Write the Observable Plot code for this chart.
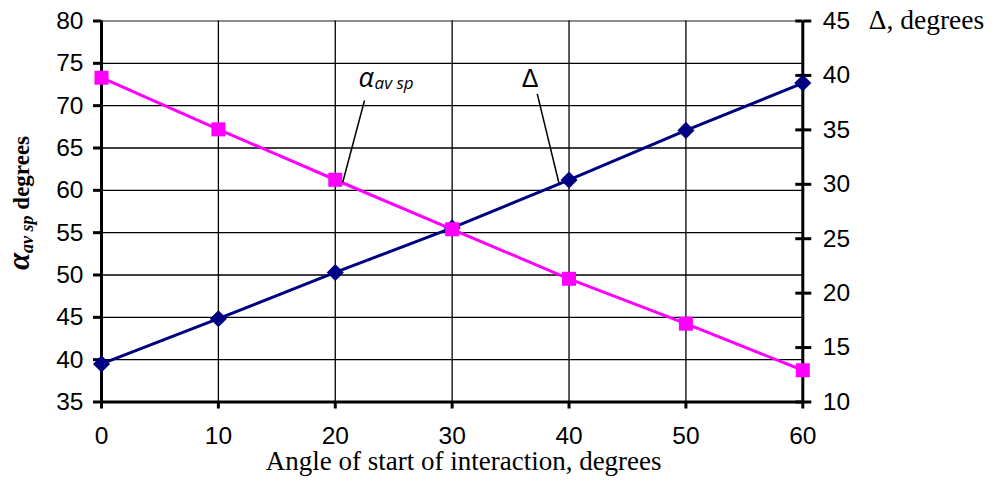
<!DOCTYPE html>
<html><head><meta charset="utf-8">
<script src="https://cdn.jsdelivr.net/npm/d3@7"></script>
<script src="https://cdn.jsdelivr.net/npm/@observablehq/plot@0.6"></script>
<style>body{margin:0;background:#fff} svg{display:block}</style>
</head><body><div id="chart"></div>
<script>
// ---- data ----
const angles = [0, 10, 20, 30, 40, 50, 60];
const alphaAvSp = [73.3, 67.2, 61.25, 55.4, 49.55, 44.25, 38.75];   // left axis
const delta = [13.5, 17.65, 21.9, 26.0, 30.4, 34.95, 39.3];         // right axis
const xTicks = [0, 10, 20, 30, 40, 50, 60];
const leftTicks = [35, 40, 45, 50, 55, 60, 65, 70, 75, 80];
const rightTicks = [10, 15, 20, 25, 30, 35, 40, 45];
const leftDomain = [35, 80];
const rightDomain = [10, 45];
const xLabel = "Angle of start of interaction, degrees";
const rightLabel = "\u0394, degrees";
// annotations in data coordinates (left-axis units)
const annoAlpha = [{x: 21.99, y: 72.18, main: "\u03b1", sub: "av sp"}];
const annoDelta = [{x: 36.66, y: 72.26, text: "\u0394"}];
const leaders = [
  {x1: 22.5, y1: 70.61, x2: 20.64, y2: 60.96},
  {x1: 37.28, y1: 71.40, x2: 39.13, y2: 60.89}
];

const toLeft = d3.scaleLinear().domain(rightDomain).range(leftDomain);
const rows = angles.map((a, i) => ({a, alpha: alphaAvSp[i], delta: delta[i]}));

const sans = "'Liberation Sans', Arial, sans-serif";
const serif = "'Liberation Serif', 'Times New Roman', serif";
const anno = "'Open Sans', 'DejaVu Sans', sans-serif";

const chart = Plot.plot({
  width: 996, height: 489,
  marginLeft: 101, marginRight: 193.7, marginTop: 20.5, marginBottom: 87.5,
  style: {background: "#fff", overflow: "visible"},
  x: {domain: [0, 60]},
  y: {domain: leftDomain},
  marks: [
    Plot.ruleY(leftTicks.slice(0, -1), {stroke: "#000", strokeWidth: 1.3}),
    Plot.ruleY([leftDomain[1]], {stroke: "#666", strokeWidth: 1.3}),
    Plot.ruleX(xTicks, {stroke: "#000", strokeWidth: 1.3}),
    // axis lines
    Plot.ruleX([0], {stroke: "#000", strokeWidth: 3}),
    Plot.ruleX([60], {stroke: "#000", strokeWidth: 3}),
    Plot.ruleY([35], {stroke: "#000", strokeWidth: 3}),
    Plot.axisY({anchor: "left", ticks: leftTicks, tickSize: 8, tickPadding: 10, strokeWidth: 3,
      fontSize: 24.5, fontFamily: sans, label: null, tickFormat: d => d}),
    Plot.axisY({anchor: "right", ticks: rightTicks.map(v => toLeft(v)), tickSize: 8, tickPadding: 12,
      strokeWidth: 3, fontSize: 24.5, fontFamily: sans, label: null,
      tickFormat: d => Math.round(toLeft.invert(d))}),
    // inner half of right cross ticks
    Plot.ruleY(rightTicks.map(v => toLeft(v)), {x1: 60, x2: 60, insetLeft: -7, stroke: "#000", strokeWidth: 3}),
    Plot.axisX({ticks: xTicks, tickSize: 7, tickPadding: 18, strokeWidth: 3, fontSize: 24.5,
      fontFamily: sans, label: null, tickFormat: d => d}),
    // series
    Plot.line(rows, {x: "a", y: d => toLeft(d.delta), stroke: "#000080", strokeWidth: 3}),
    Plot.dot(rows, {x: "a", y: d => toLeft(d.delta), symbol: "diamond2", r: 7.7, fill: "#000080"}),
    Plot.line(rows, {x: "a", y: "alpha", stroke: "#FF00FF", strokeWidth: 3}),
    Plot.dot(rows, {x: "a", y: "alpha", symbol: "square", r: 7.9, fill: "#FF00FF"}),
    // annotations
    Plot.link(leaders, {x1: "x1", y1: "y1", x2: "x2", y2: "y2", stroke: "#000", strokeWidth: 1.5}),
    Plot.text(annoAlpha, {x: "x", y: "y", text: "main", textAnchor: "start", lineAnchor: "bottom",
      fontSize: 27, fontStyle: "italic", fontFamily: anno, fill: "#000"}),
    Plot.text(annoAlpha, {x: "x", y: "y", text: "sub", textAnchor: "start", lineAnchor: "bottom",
      dx: 16, dy: 2, fontSize: 17, fontStyle: "italic", fontFamily: anno, fill: "#000"}),
    Plot.text(annoDelta, {x: "x", y: "y", text: "text", textAnchor: "middle", lineAnchor: "bottom",
      fontSize: 25, fontFamily: sans, fill: "#000"}),
    // axis titles
    Plot.text([xLabel], {frameAnchor: "bottom", text: d => d, textAnchor: "middle", lineAnchor: "bottom",
      dx: 11.5, dy: 67.5, fontSize: 27, fontFamily: serif, fill: "#000"}),
    Plot.text([rightLabel], {frameAnchor: "top-right", text: d => d, textAnchor: "start", lineAnchor: "bottom",
      dx: 66, dy: 8, fontSize: 27.5, fontFamily: serif, fill: "#000"})
  ]
});

// rotated left title with subscript
const svg = d3.select(chart);
const t = svg.append("text")
  .attr("transform", "translate(29,203) rotate(-90)")
  .attr("text-anchor", "middle")
  .attr("font-family", serif)
  .attr("font-weight", "bold")
  .attr("font-size", 23)
  .attr("fill", "#000");
t.append("tspan").attr("font-style", "italic").attr("font-size", 31).text("\u03b1");
t.append("tspan").attr("font-style", "italic").attr("font-size", 18).attr("dy", 4).text("av sp");
t.append("tspan").attr("dy", -4).text(" degrees");

document.getElementById("chart").appendChild(chart);
</script>
</body></html>
